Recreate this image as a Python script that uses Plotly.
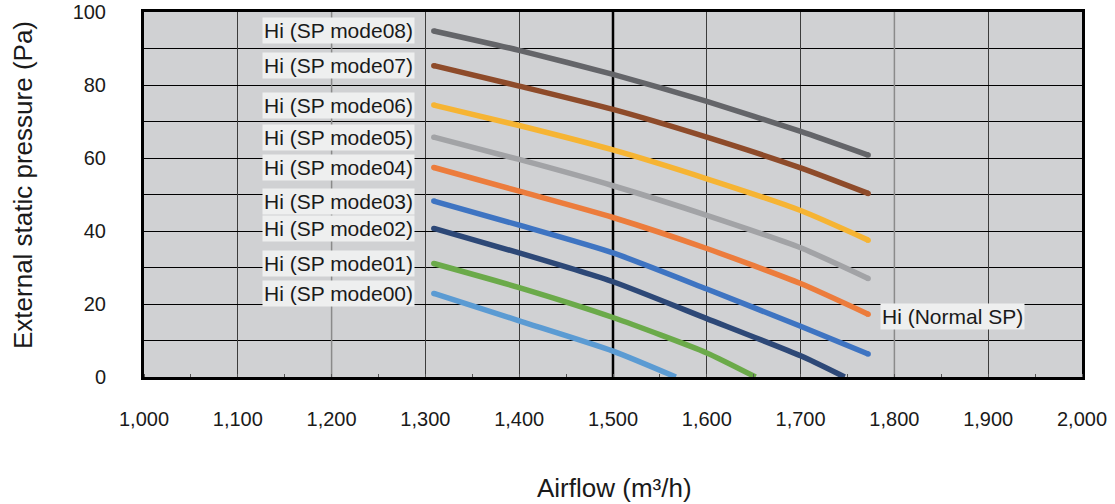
import plotly.graph_objects as go

# Airflow sample points (m3/h)
x_full = [1309, 1400, 1500, 1600, 1700, 1772]

mode08 = [94.8, 89.5, 82.9, 75.5, 67.3, 60.8]
mode07 = [85.3, 79.7, 73.3, 65.7, 57.3, 50.3]
mode06 = [74.5, 68.9, 62.2, 54.3, 45.6, 37.5]
mode05 = [65.7, 59.6, 52.4, 44.3, 35.4, 27.0]
mode04 = [57.4, 50.9, 43.7, 35.2, 25.6, 17.2]
mode03 = [48.2, 41.6, 34.0, 24.1, 13.9, 6.3]
x_mode02 = [1309, 1400, 1500, 1600, 1700, 1747]
mode02 = [40.7, 34.0, 26.1, 16.0, 5.8, 0.0]
x_mode01 = [1309, 1400, 1500, 1600, 1652]
mode01 = [31.1, 24.5, 16.3, 6.6, 0.0]
x_mode00 = [1309, 1400, 1500, 1567]
mode00 = [22.9, 15.4, 7.1, 0.0]

names = ["Hi (SP mode08)", "Hi (SP mode07)", "Hi (SP mode06)", "Hi (SP mode05)",
         "Hi (SP mode04)", "Hi (SP mode03)", "Hi (SP mode02)", "Hi (SP mode01)",
         "Hi (SP mode00)"]
xs = [x_full, x_full, x_full, x_full, x_full, x_full, x_mode02, x_mode01, x_mode00]
ys = [mode08, mode07, mode06, mode05, mode04, mode03, mode02, mode01, mode00]
colors = ["#646569", "#8E4B2A", "#F6B433", "#A2A3A6", "#EC7C3C",
          "#3E74C2", "#2D4877", "#6BAA4A", "#5B9BD3"]
normal_label = "Hi (Normal SP)"

x_ticks = list(range(1000, 2001, 100))
y_ticks = list(range(0, 101, 20))

FONT = "Liberation Sans, Arial, sans-serif"

fig = go.Figure()
for x, y, c, n in zip(xs, ys, colors, names):
    fig.add_trace(go.Scatter(x=x, y=y, mode="lines",
                             line=dict(color=c, width=5.5, shape="spline", smoothing=0.6),
                             name=n, showlegend=False, hoverinfo="skip"))
    # round caps
    cx = [x[0], x[-1]] if y[-1] > 0 else [x[0]]
    cy = [y[0], y[-1]] if y[-1] > 0 else [y[0]]
    fig.add_trace(go.Scatter(x=cx, y=cy, mode="markers",
                             marker=dict(color=c, size=5.5, line=dict(width=0)),
                             showlegend=False, hoverinfo="skip"))

for x, y, n in zip(xs, ys, names):
    fig.add_annotation(x=1289, y=y[0], xref="x", yref="y", text=n, showarrow=False,
                       xanchor="right", yanchor="middle", bgcolor="#EEEFEF", borderpad=1,
                       font=dict(family=FONT, size=21, color="#1a1a1a"))

fig.add_annotation(x=1785, y=16.7, xref="x", yref="y", text=normal_label, showarrow=False,
                   xanchor="left", yanchor="middle", bgcolor="#EEEFEF", borderpad=1,
                   font=dict(family=FONT, size=21, color="#1a1a1a"))

# axis titles
fig.add_annotation(x=0.502, y=-0.304, xref="paper", yref="paper", text="Airflow (m³/h)",
                   showarrow=False, xanchor="center", yanchor="middle",
                   font=dict(family=FONT, size=26, color="#1a1a1a"))
fig.add_annotation(x=-0.129, y=0.526, xref="paper", yref="paper",
                   text="External static pressure (Pa)", textangle=-90,
                   showarrow=False, xanchor="center", yanchor="middle",
                   font=dict(family=FONT, size=26, color="#1a1a1a"))

# special vertical grid lines
fig.add_shape(type="line", x0=1500, x1=1500, y0=0, y1=100, xref="x", yref="y",
              line=dict(color="black", width=2.5), layer="between")
for xv in [1200, 1800]:
    fig.add_shape(type="line", x0=xv, x1=xv, y0=0, y1=100, xref="x", yref="y",
                  line=dict(color="#8a8a8a", width=1.5), layer="between")

fig.update_layout(
    width=1115, height=504,
    margin=dict(l=144, r=33, t=12, b=127, autoexpand=False),
    plot_bgcolor="#D0D1D3", paper_bgcolor="white",
    font=dict(family=FONT, size=20, color="#1a1a1a"),
)
fig.update_xaxes(range=[1000, 2000], tickvals=x_ticks, tickformat=",d", automargin=False,
                 showgrid=True, gridcolor="#3c3c3c", gridwidth=1,
                 showline=True, linecolor="black", linewidth=3, mirror=True,
                 ticks="", ticklabelstandoff=22, tickfont=dict(size=20),
                 minor=dict(dtick=50, tick0=1050, ticks="inside", ticklen=3, tickcolor="#555", showgrid=False),
                 zeroline=False)
fig.update_yaxes(range=[0, 100], tickvals=y_ticks, automargin=False,
                 showgrid=True, gridcolor="black", gridwidth=1,
                 showline=True, linecolor="black", linewidth=3, mirror=True,
                 ticks="", ticklabelstandoff=31, tickfont=dict(size=20),
                 minor=dict(dtick=10, showgrid=True, gridcolor="black", gridwidth=1),
                 zeroline=False)

fig.write_html("out.html", config={"displayModeBar": False},
               post_script="document.body.style.margin='0px';document.body.style.padding='0px';")
